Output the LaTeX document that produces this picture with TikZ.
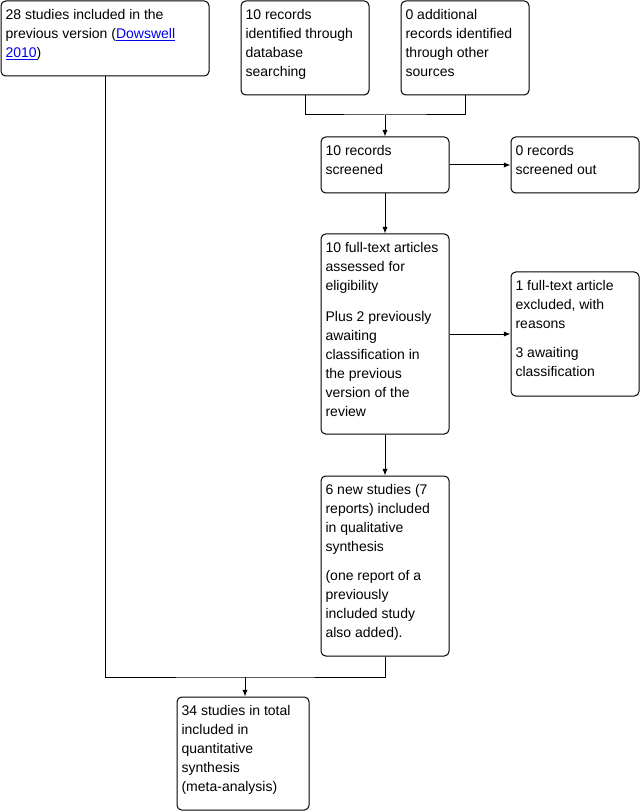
\documentclass[tikz,border=0pt]{standalone}
\usepackage{fontspec}
\setmainfont{Liberation Sans}
\usepackage{tikz}
\usetikzlibrary{arrows.meta,fit}

\definecolor{linkblue}{RGB}{0,0,238}
\tikzset{
  frame/.style={draw, line width=0.75pt, rounded corners=3.5pt, inner sep=0pt},
  txt/.style={anchor=north west, align=left, inner xsep=3.6pt, inner ysep=6.6pt,
    font=\fontsize{10.5pt}{14.25pt}\selectfont},
  arr/.style={-{Latex[length=5pt,width=4pt]}, line width=0.75pt},
  conn/.style={line width=0.75pt}
}

\begin{document}
\begin{tikzpicture}[x=0.75pt,y=-0.75pt] % one unit is one pixel of the reference
\useasboundingbox (0,0) rectangle (642,812);

% boxes
\node[frame, fit={(1,1) (209,76)}] (prev) {};
\node[frame, fit={(241,1) (369,95)}] (db) {};
\node[frame, fit={(401,1) (529,95)}] (oth) {};
\node[frame, fit={(321,137) (449,193)}] (scr) {};
\node[frame, fit={(511,137) (639,193)}] (out) {};
\node[frame, fit={(321,234) (449,434)}] (full) {};
\node[frame, fit={(511,272) (639,396)}] (excl) {};
\node[frame, fit={(321,476) (449,656)}] (incl) {};
\node[frame, fit={(177,697) (309,810)}] (tot) {};

% texts
\node[txt] (prevtxt) at (prev.north west) {28 studies included in the\\previous version (\textcolor{linkblue}{\underline{Dowswell}}\\\textcolor{linkblue}{\underline{2010}})};
\node[txt] (dbtxt) at (db.north west) {10 records\\identified through\\database\\searching};
\node[txt] (othtxt) at (oth.north west) {0 additional\\records identified\\through other\\sources};
\node[txt] (scrtxt) at (scr.north west) {10 records\\screened};
\node[txt] (outtxt) at (out.north west) {0 records\\screened out};
\node[txt] (fulltxt) at (full.north west) {10 full-text articles\\assessed for\\eligibility\\[8.5pt]Plus 2 previously\\awaiting\\classification in\\the previous\\version of the\\review};
\node[txt] (excltxt) at (excl.north west) {1 full-text article\\excluded, with\\reasons\\[7.5pt]3 awaiting\\classification};
\node[txt] (incltxt) at (incl.north west) {6 new studies (7\\reports) included\\in qualitative\\synthesis\\[7.5pt](one report of a\\previously\\included study\\also added).};
\node[txt] (tottxt) at (tot.north west) {34 studies in total\\included in\\quantitative\\synthesis\\(meta-analysis)};

% connectors
\coordinate (join1) at (385,115);
\coordinate (join2) at (245,677);
\draw[conn] (db.south) |- (join1) -| (oth.south);
\draw[arr] (join1) -- (scr.north);
\draw[arr] (scr.east) -- (out.west);
\draw[arr] (scr.south) -- (full.north);
\draw[arr] (full.east) -- (full.east -| excl.west);
\draw[arr] (full.south) -- (incl.north);
\draw[conn] (prev.south) |- (join2) -| (incl.south);
\draw[arr] (join2) -- (join2 |- tot.north);

\end{tikzpicture}
\end{document}
